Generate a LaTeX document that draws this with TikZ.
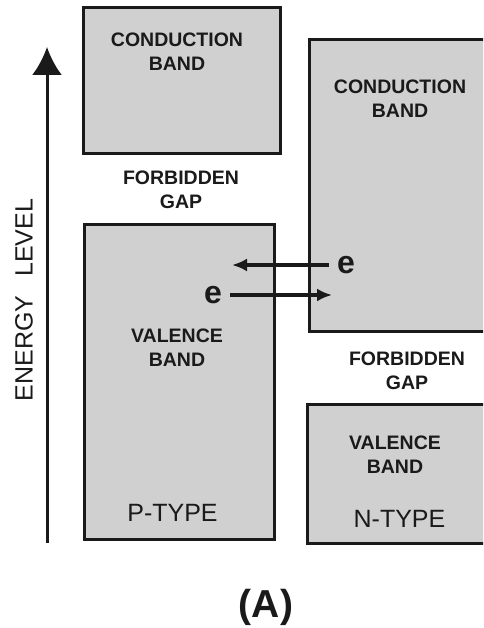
\documentclass[tikz,border=0pt]{standalone}
\usepackage{fontspec}
\setmainfont{Liberation Sans}
\usepackage{xcolor}
\usetikzlibrary{positioning,arrows.meta}
\definecolor{BandGray}{HTML}{D0D0D0}
\definecolor{InkDark}{HTML}{1A1A1A}
\newcommand{\bandfont}{\fontsize{19.5}{24}\bfseries\selectfont}
\newcommand{\typefont}{\fontsize{25}{28}\selectfont}

\begin{document}
\begin{tikzpicture}[
  x=1pt, y=-1pt,
  band/.style={draw=InkDark, line width=3pt, fill=BandGray, inner sep=0pt},
  lbl/.style={text=InkDark, align=center, font=\bandfont, inner sep=0pt},
  typelbl/.style={text=InkDark, font=\typefont, inner sep=0pt},
  carrier/.style={text=InkDark, font=\fontsize{32}{36}\bfseries\selectfont, inner sep=2pt},
  flow/.style={-{Latex[length=15pt, width=13pt]}, line width=4pt, InkDark, shorten <=6pt},
  axis/.style={-{Latex[length=28pt, width=30pt]}, line width=3pt, InkDark}
]
\clip (0,0) rectangle (483,628);
% bands
\node[band, minimum width=197pt, minimum height=146pt] (condP) at (181.5,81) {};
\node[band, minimum width=190pt, minimum height=315pt] (valP) at (179,381.5) {};
\node[band, minimum width=186pt, minimum height=291pt] (condN) at (402,185.5) {};
\node[band, minimum width=188pt, minimum height=139pt] (valN) at (401,473.5) {};
% labels
\node[lbl] (condPtxt) at (177,52) {CONDUCTION\\BAND};
\node[lbl] (gapPtxt) at (181,189.5) {FORBIDDEN\\GAP};
\node[lbl] (valPtxt) at (177,348) {VALENCE\\BAND};
\node[typelbl] (ptype) at (172.5,512.5) {P-TYPE};
\node[lbl] (condNtxt) at (400,99) {CONDUCTION\\BAND};
\node[lbl] (gapNtxt) at (407,370.5) {FORBIDDEN\\GAP};
\node[lbl] (valNtxt) at (395,455) {VALENCE\\BAND};
\node[typelbl] (ntype) at (399.5,518.5) {N-TYPE};
% electrons
\node[carrier] (eN) at (346,265) {e};
\node[carrier] (eP) at (213,295) {e};
\coordinate (xL) at (232,0);
\coordinate (xR) at (332,0);
\coordinate (tipL) at (eN.west -| xL);
\coordinate (tipR) at (eP.east -| xR);
\draw[flow] (eN.west) -- (tipL);
\draw[flow] (eP.east) -- (tipR);
% energy axis
\coordinate (axisBot) at (47,543);
\coordinate (axisTop) at (47,47);
\draw[axis] (axisBot) -- (axisTop);
\node[rotate=90, text=InkDark, font=\fontsize{25}{28}\selectfont, inner sep=0pt] (axislbl) at (24,300) {ENERGY\hspace{0.75em}LEVEL};
\node[text=InkDark, font=\fontsize{39}{44}\bfseries\selectfont, inner sep=0pt] (caption) at (266,607) {(A)};
\end{tikzpicture}
\end{document}
